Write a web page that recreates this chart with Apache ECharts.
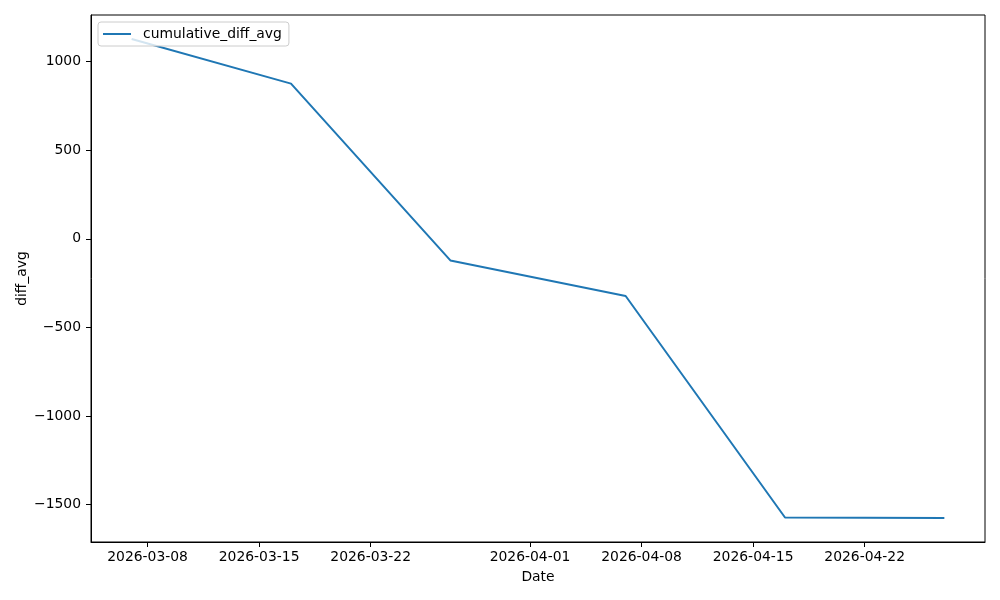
<!DOCTYPE html>
<html>
<head>
<meta charset="utf-8">
<script src="https://cdn.jsdelivr.net/npm/echarts@6/dist/echarts.min.js"></script>
<style>
  html, body { margin: 0; padding: 0; background: #fff; }
  #chart { width: 1000px; height: 600px; }
</style>
</head>
<body>
<div id="chart"></div>
<script>
// data
const dates = ['2026-03-07', '2026-03-17', '2026-03-27', '2026-04-07', '2026-04-17', '2026-04-27'];
const values = [1128, 876, -122, -323, -1573, -1576];
const xTickLabels = ['2026-03-08', '2026-03-15', '2026-03-22', '2026-04-01', '2026-04-08', '2026-04-15', '2026-04-22'];
const yTickLabels = [-1500, -1000, -500, 0, 500, 1000];

const FONT = 'DejaVu Sans';
const FS = 13.9;

// local-time timestamp from 'YYYY-MM-DD'
const ts = (s) => {
    const [y, m, d] = s.split('-').map(Number);
    return new Date(y, m - 1, d).getTime();
};
const pad2 = (n) => (n < 10 ? '0' : '') + n;
const fmtDate = (v) => {
    const d = new Date(v);
    return d.getFullYear() + '-' + pad2(d.getMonth() + 1) + '-' + pad2(d.getDate());
};
const fmtNum = (v) => String(v).replace('-', '\u2212');

const seriesData = dates.map((d, i) => [ts(d), values[i]]);
const xTicks = xTickLabels.map(ts);

// matplotlib style 5% margins
const xMin = ts(dates[0]), xMax = ts(dates[dates.length - 1]);
const xPad = (xMax - xMin) * 0.05;
const yLo = Math.min(...values), yHi = Math.max(...values);
const yPad = (yHi - yLo) * 0.05;

const chart = echarts.init(document.getElementById('chart'));
chart.setOption({
    animation: false,
    textStyle: { fontFamily: FONT },
    grid: {
        left: 91, right: 15, top: 15, bottom: 58,
        show: true, borderColor: '#000', borderWidth: 1,
        containLabel: false
    },
    legend: {
        left: 98, top: 22,
        padding: [5, 7, 5, 5],
        itemWidth: 28, itemHeight: 2,
        icon: 'rect',
        borderColor: '#cccccc', borderWidth: 1, borderRadius: 3,
        backgroundColor: 'rgba(255,255,255,0.8)',
        textStyle: { fontFamily: FONT, fontSize: FS, color: '#000', padding: [0, 0, 0, 7] },
        data: ['cumulative_diff_avg']
    },
    xAxis: {
        type: 'value',
        min: xMin - xPad, max: xMax + xPad,
        name: 'Date', nameLocation: 'middle', nameGap: 28,
        nameMoveOverlap: false,
        nameTextStyle: { fontFamily: FONT, fontSize: FS, color: '#000' },
        axisLine: { show: true, onZero: false, lineStyle: { color: '#000', width: 1 } },
        axisTick: { show: true, length: 5, lineStyle: { color: '#000' }, customValues: xTicks },
        axisLabel: {
            fontFamily: FONT, fontSize: FS, color: '#000', margin: 8,
            customValues: xTicks, formatter: fmtDate, hideOverlap: false
        },
        splitLine: { show: false }
    },
    yAxis: {
        type: 'value',
        min: yLo - yPad, max: yHi + yPad,
        name: 'diff_avg', nameLocation: 'middle', nameGap: 62,
        nameMoveOverlap: false,
        nameTextStyle: { fontFamily: FONT, fontSize: FS, color: '#000' },
        axisLine: { show: true, onZero: false, lineStyle: { color: '#000', width: 1 } },
        axisTick: { show: true, length: 5, lineStyle: { color: '#000' }, customValues: yTickLabels },
        axisLabel: {
            fontFamily: FONT, fontSize: FS, color: '#000', margin: 10,
            customValues: yTickLabels, formatter: fmtNum
        },
        splitLine: { show: false }
    },
    series: [{
        name: 'cumulative_diff_avg',
        type: 'line',
        data: seriesData,
        showSymbol: false,
        symbol: 'none',
        lineStyle: { color: '#1f77b4', width: 2 },
        itemStyle: { color: '#1f77b4' }
    }]
});
</script>
</body>
</html>
